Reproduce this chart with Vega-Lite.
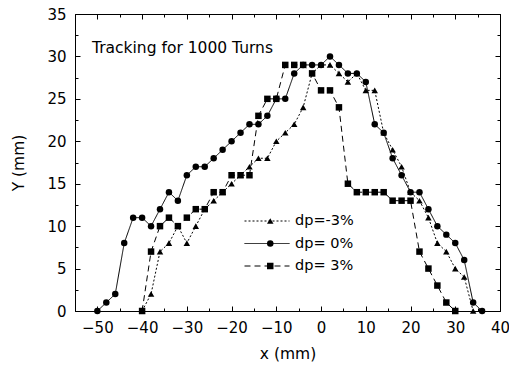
{
  "$schema": "https://vega.github.io/schema/vega-lite/v6.json",
  "width": 425,
  "height": 297,
  "autosize": "none",
  "padding": {"left": 75, "top": 14, "right": 9, "bottom": 57},
  "background": "white",
  "config": {
    "font": "DejaVu Sans",
    "view": {"stroke": "black", "strokeWidth": 1},
    "axis": {
      "grid": false,
      "domainColor": "black",
      "domainWidth": 1,
      "tickColor": "black",
      "tickWidth": 1,
      "labelColor": "black",
      "titleColor": "black",
      "labelFont": "DejaVu Sans",
      "labelFontSize": 15,
      "titleFont": "DejaVu Sans",
      "titleFontSize": 15.5,
      "titleFontWeight": "normal",
      "labelFlush": false,
      "labelOverlap": false
    }
  },
  "title": {
    "text": "Tracking for 1000 Turns",
    "anchor": "start",
    "frame": "group",
    "orient": "top",
    "offset": -37,
    "dx": 17,
    "dy": 24,
    "baseline": "alphabetic",
    "font": "DejaVu Sans",
    "fontSize": 15.5,
    "fontWeight": "normal",
    "color": "black"
  },
  "data": {
    "values": [
      {"series": "dp= 0%", "x": -50, "y": 0},
      {"series": "dp= 0%", "x": -48, "y": 1},
      {"series": "dp= 0%", "x": -46, "y": 2},
      {"series": "dp= 0%", "x": -44, "y": 8},
      {"series": "dp= 0%", "x": -42, "y": 11},
      {"series": "dp= 0%", "x": -40, "y": 11},
      {"series": "dp= 0%", "x": -38, "y": 10},
      {"series": "dp= 0%", "x": -36, "y": 12},
      {"series": "dp= 0%", "x": -34, "y": 14},
      {"series": "dp= 0%", "x": -32, "y": 13},
      {"series": "dp= 0%", "x": -30, "y": 16},
      {"series": "dp= 0%", "x": -28, "y": 17},
      {"series": "dp= 0%", "x": -26, "y": 17},
      {"series": "dp= 0%", "x": -24, "y": 18},
      {"series": "dp= 0%", "x": -22, "y": 19},
      {"series": "dp= 0%", "x": -20, "y": 20},
      {"series": "dp= 0%", "x": -18, "y": 21},
      {"series": "dp= 0%", "x": -16, "y": 22},
      {"series": "dp= 0%", "x": -14, "y": 22},
      {"series": "dp= 0%", "x": -12, "y": 23},
      {"series": "dp= 0%", "x": -10, "y": 25},
      {"series": "dp= 0%", "x": -8, "y": 25},
      {"series": "dp= 0%", "x": -6, "y": 28},
      {"series": "dp= 0%", "x": -4, "y": 29},
      {"series": "dp= 0%", "x": -2, "y": 29},
      {"series": "dp= 0%", "x": 0, "y": 29},
      {"series": "dp= 0%", "x": 2, "y": 30},
      {"series": "dp= 0%", "x": 4, "y": 29},
      {"series": "dp= 0%", "x": 6, "y": 28},
      {"series": "dp= 0%", "x": 8, "y": 28},
      {"series": "dp= 0%", "x": 10, "y": 27},
      {"series": "dp= 0%", "x": 12, "y": 22},
      {"series": "dp= 0%", "x": 14, "y": 21},
      {"series": "dp= 0%", "x": 16, "y": 18},
      {"series": "dp= 0%", "x": 18, "y": 16},
      {"series": "dp= 0%", "x": 20, "y": 14},
      {"series": "dp= 0%", "x": 22, "y": 14},
      {"series": "dp= 0%", "x": 24, "y": 12},
      {"series": "dp= 0%", "x": 26, "y": 10},
      {"series": "dp= 0%", "x": 28, "y": 9},
      {"series": "dp= 0%", "x": 30, "y": 8},
      {"series": "dp= 0%", "x": 32, "y": 6},
      {"series": "dp= 0%", "x": 34, "y": 1},
      {"series": "dp= 0%", "x": 36, "y": 0},

      {"series": "dp=-3%", "x": -40, "y": 0},
      {"series": "dp=-3%", "x": -38, "y": 2},
      {"series": "dp=-3%", "x": -36, "y": 7},
      {"series": "dp=-3%", "x": -34, "y": 8},
      {"series": "dp=-3%", "x": -32, "y": 10},
      {"series": "dp=-3%", "x": -30, "y": 8},
      {"series": "dp=-3%", "x": -28, "y": 10},
      {"series": "dp=-3%", "x": -26, "y": 12},
      {"series": "dp=-3%", "x": -24, "y": 13},
      {"series": "dp=-3%", "x": -22, "y": 14},
      {"series": "dp=-3%", "x": -20, "y": 15},
      {"series": "dp=-3%", "x": -18, "y": 16},
      {"series": "dp=-3%", "x": -16, "y": 17},
      {"series": "dp=-3%", "x": -14, "y": 18},
      {"series": "dp=-3%", "x": -12, "y": 18},
      {"series": "dp=-3%", "x": -10, "y": 20},
      {"series": "dp=-3%", "x": -8, "y": 21},
      {"series": "dp=-3%", "x": -6, "y": 22},
      {"series": "dp=-3%", "x": -4, "y": 24},
      {"series": "dp=-3%", "x": -2, "y": 28},
      {"series": "dp=-3%", "x": 0, "y": 29},
      {"series": "dp=-3%", "x": 2, "y": 29},
      {"series": "dp=-3%", "x": 4, "y": 28},
      {"series": "dp=-3%", "x": 6, "y": 27},
      {"series": "dp=-3%", "x": 8, "y": 28},
      {"series": "dp=-3%", "x": 10, "y": 26},
      {"series": "dp=-3%", "x": 12, "y": 26},
      {"series": "dp=-3%", "x": 14, "y": 21},
      {"series": "dp=-3%", "x": 16, "y": 19},
      {"series": "dp=-3%", "x": 18, "y": 17},
      {"series": "dp=-3%", "x": 20, "y": 14},
      {"series": "dp=-3%", "x": 22, "y": 13},
      {"series": "dp=-3%", "x": 24, "y": 11},
      {"series": "dp=-3%", "x": 26, "y": 8},
      {"series": "dp=-3%", "x": 28, "y": 7},
      {"series": "dp=-3%", "x": 30, "y": 5},
      {"series": "dp=-3%", "x": 32, "y": 4},
      {"series": "dp=-3%", "x": 34, "y": 0},

      {"series": "dp= 3%", "x": -40, "y": 0},
      {"series": "dp= 3%", "x": -38, "y": 7},
      {"series": "dp= 3%", "x": -36, "y": 10},
      {"series": "dp= 3%", "x": -34, "y": 11},
      {"series": "dp= 3%", "x": -32, "y": 10},
      {"series": "dp= 3%", "x": -30, "y": 11},
      {"series": "dp= 3%", "x": -28, "y": 12},
      {"series": "dp= 3%", "x": -26, "y": 12},
      {"series": "dp= 3%", "x": -24, "y": 14},
      {"series": "dp= 3%", "x": -22, "y": 14},
      {"series": "dp= 3%", "x": -20, "y": 16},
      {"series": "dp= 3%", "x": -18, "y": 16},
      {"series": "dp= 3%", "x": -16, "y": 16},
      {"series": "dp= 3%", "x": -14, "y": 23},
      {"series": "dp= 3%", "x": -12, "y": 25},
      {"series": "dp= 3%", "x": -10, "y": 25},
      {"series": "dp= 3%", "x": -8, "y": 29},
      {"series": "dp= 3%", "x": -6, "y": 29},
      {"series": "dp= 3%", "x": -4, "y": 29},
      {"series": "dp= 3%", "x": -2, "y": 28},
      {"series": "dp= 3%", "x": 0, "y": 26},
      {"series": "dp= 3%", "x": 2, "y": 26},
      {"series": "dp= 3%", "x": 4, "y": 24},
      {"series": "dp= 3%", "x": 6, "y": 15},
      {"series": "dp= 3%", "x": 8, "y": 14},
      {"series": "dp= 3%", "x": 10, "y": 14},
      {"series": "dp= 3%", "x": 12, "y": 14},
      {"series": "dp= 3%", "x": 14, "y": 14},
      {"series": "dp= 3%", "x": 16, "y": 13},
      {"series": "dp= 3%", "x": 18, "y": 13},
      {"series": "dp= 3%", "x": 20, "y": 13},
      {"series": "dp= 3%", "x": 22, "y": 7},
      {"series": "dp= 3%", "x": 24, "y": 5},
      {"series": "dp= 3%", "x": 26, "y": 3},
      {"series": "dp= 3%", "x": 28, "y": 1},
      {"series": "dp= 3%", "x": 30, "y": 0}
    ]
  },
  "layer": [
    {
      "mark": {"type": "line", "color": "black", "strokeWidth": 1},
      "encoding": {
        "x": {
          "field": "x", "type": "quantitative",
          "scale": {"domain": [-55, 40], "nice": false, "zero": false},
          "axis": {
            "orient": "bottom",
            "title": "x (mm)",
            "values": [-50, -45, -40, -35, -30, -25, -20, -15, -10, -5, 0, 5, 10, 15, 20, 25, 30, 35, 40],
            "labelExpr": "datum.value % 10 === 0 ? datum.label : ''",
            "tickSize": {"condition": {"test": "datum.value % 10 === 0", "value": -5}, "value": -3},
            "labelPadding": 14,
            "titlePadding": 9
          }
        },
        "y": {
          "field": "y", "type": "quantitative",
          "scale": {"domain": [0, 35], "nice": false, "zero": false},
          "axis": {
            "orient": "left",
            "title": "Y (mm)",
            "values": [0, 2.5, 5, 7.5, 10, 12.5, 15, 17.5, 20, 22.5, 25, 27.5, 30, 32.5, 35],
            "labelExpr": "datum.value % 5 === 0 ? datum.label : ''",
            "tickSize": {"condition": {"test": "datum.value % 5 === 0", "value": -5}, "value": -3},
            "labelPadding": 14,
            "titlePadding": 20
          }
        },
        "strokeDash": {
          "field": "series", "type": "nominal",
          "sort": ["dp=-3%", "dp= 0%", "dp= 3%"],
          "scale": {"range": [[2, 2], [1, 0], [6, 4]]},
          "legend": {
            "title": null,
            "orient": "none",
            "legendX": 169,
            "legendY": 197,
            "padding": 0,
            "symbolType": "stroke",
            "symbolSize": 2025,
            "symbolStrokeWidth": 1,
            "symbolStrokeColor": "black",
            "clipHeight": 20,
            "rowPadding": 2.5,
            "labelOffset": 5,
            "labelFont": "DejaVu Sans",
            "labelFontSize": 14.5,
            "labelColor": "black"
          }
        }
      }
    },
    {
      "mark": {"type": "point", "filled": true, "color": "black", "size": 42, "opacity": 1},
      "encoding": {
        "x": {
          "field": "x", "type": "quantitative",
          "scale": {"domain": [-55, 40], "nice": false, "zero": false},
          "axis": {
            "orient": "top",
            "title": null,
            "labels": false,
            "values": [-50, -45, -40, -35, -30, -25, -20, -15, -10, -5, 0, 5, 10, 15, 20, 25, 30, 35, 40],
            "tickSize": {"condition": {"test": "datum.value % 10 === 0", "value": -5}, "value": -3}
          }
        },
        "y": {
          "field": "y", "type": "quantitative",
          "scale": {"domain": [0, 35], "nice": false, "zero": false},
          "axis": {
            "orient": "right",
            "title": null,
            "labels": false,
            "values": [0, 2.5, 5, 7.5, 10, 12.5, 15, 17.5, 20, 22.5, 25, 27.5, 30, 32.5, 35],
            "tickSize": {"condition": {"test": "datum.value % 5 === 0", "value": -5}, "value": -3}
          }
        },
        "shape": {
          "field": "series", "type": "nominal",
          "scale": {"domain": ["dp=-3%", "dp= 0%", "dp= 3%"], "range": ["triangle-up", "circle", "square"]},
          "legend": {
            "title": null,
            "orient": "none",
            "legendX": 169,
            "legendY": 197,
            "padding": 0,
            "symbolSize": 42,
            "symbolFillColor": "black",
            "symbolStrokeColor": "black",
            "symbolOffset": 19,
            "clipHeight": 20,
            "rowPadding": 2.5,
            "labelExpr": "''",
            "labelFontSize": 14.5
          }
        }
      }
    }
  ],
  "resolve": {"axis": {"x": "independent", "y": "independent"}}
}
